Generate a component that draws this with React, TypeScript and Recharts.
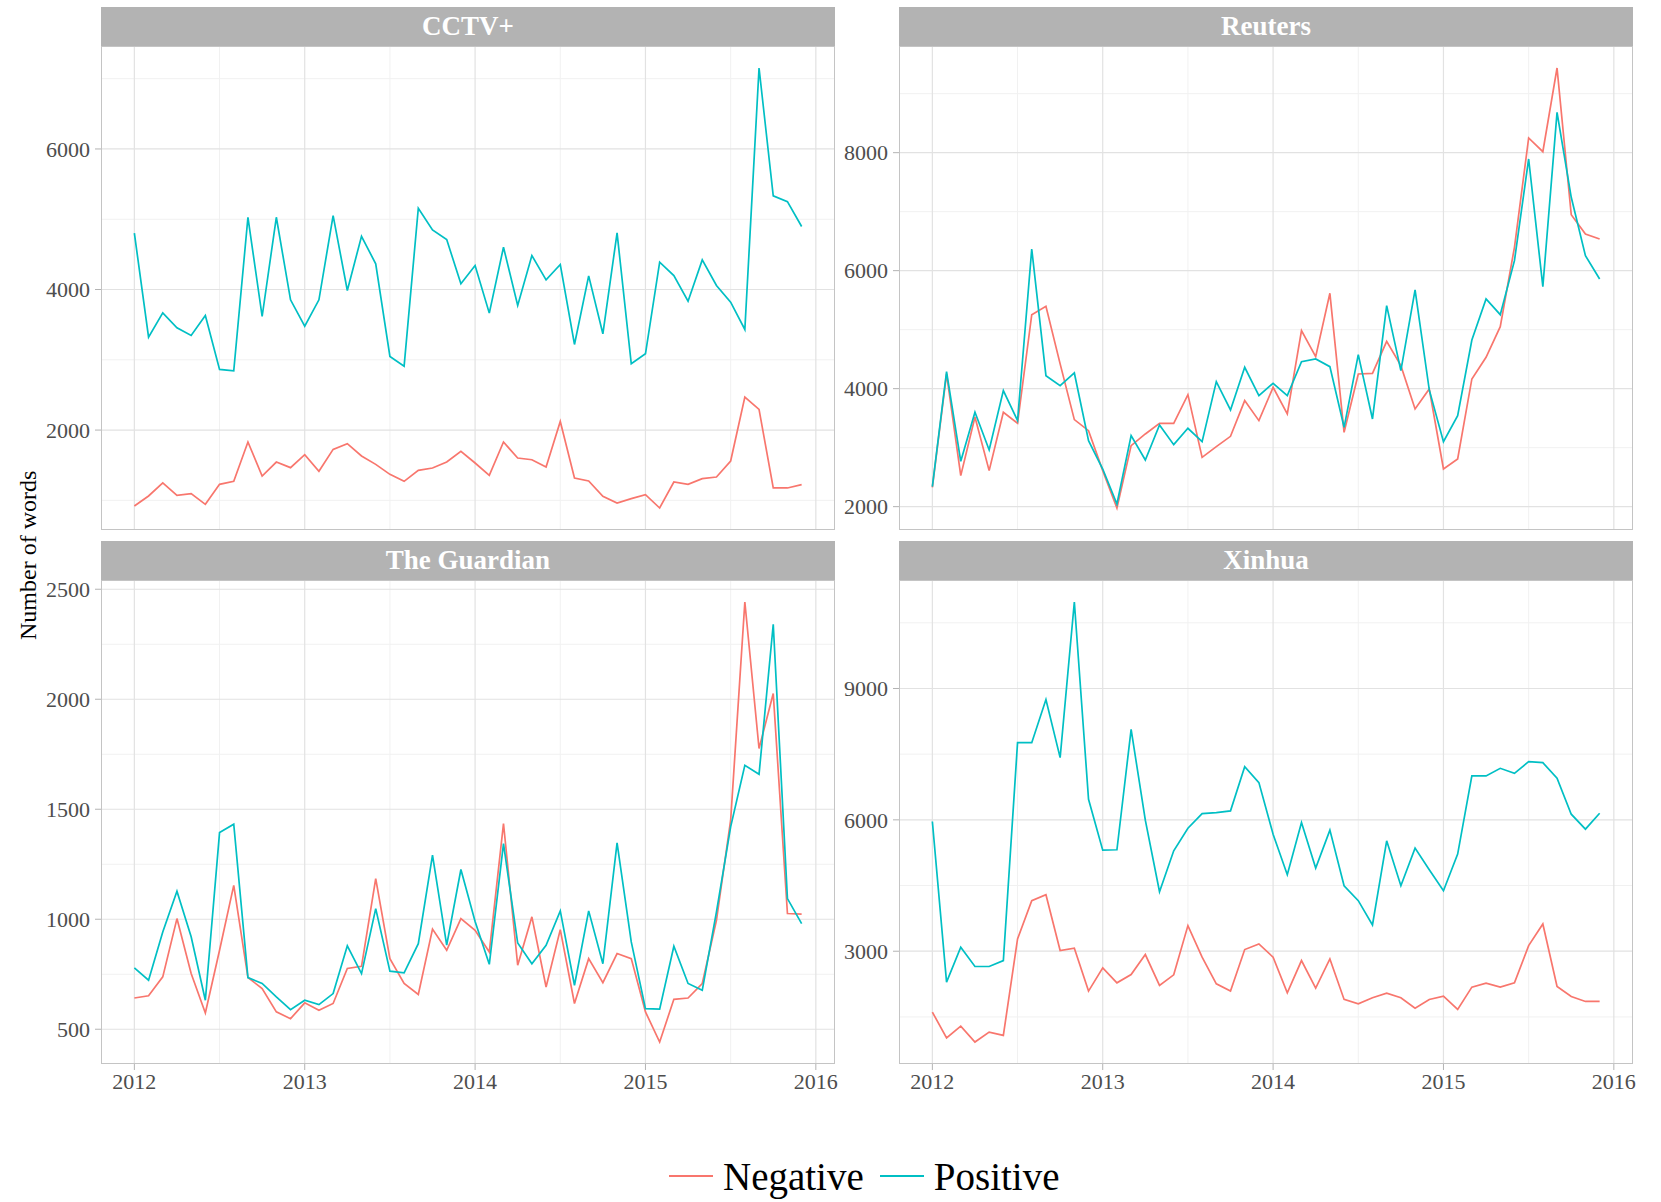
import React from 'react';
import { LineChart, Line, XAxis, YAxis, ReferenceLine } from 'recharts';

// ---- categories (monthly, Jan 2012 .. Dec 2015) ----
const MONTHS: number[] = Array.from({ length: 48 }, (_, i) => 2012 + i / 12);
const YEAR_TICKS = [2012, 2013, 2014, 2015, 2016];
const YEAR_MINOR = [2012.5, 2013.5, 2014.5, 2015.5];
const SERIES = ['Negative', 'Positive'];
const COLORS = ['#F8766D', '#00BFC4'];
const Y_TITLE = 'Number of words';

// ---- CCTV+ ----
const cctvNeg = [920, 1062, 1247, 1071, 1095, 943, 1228, 1270, 1830, 1346, 1545, 1465, 1650, 1413, 1725, 1806, 1631, 1512, 1370, 1270, 1427, 1460, 1545, 1697, 1531, 1356, 1830, 1602, 1578, 1474, 2123, 1318, 1275, 1057, 962, 1024, 1081, 891, 1261, 1228, 1308, 1332, 1559, 2469, 2294, 1176, 1176, 1223];
const cctvPos = [4801, 3322, 3668, 3455, 3346, 3630, 2863, 2844, 5028, 3616, 5028, 3853, 3479, 3853, 5052, 3986, 4758, 4365, 3048, 2910, 5156, 4848, 4711, 4081, 4341, 3664, 4602, 3773, 4483, 4138, 4356, 3218, 4194, 3370, 4806, 2943, 3085, 4389, 4199, 3834, 4422, 4057, 3820, 3431, 7152, 5332, 5251, 4896];
const cctvTicks = [2000, 4000, 6000];
const cctvMinor = [1000, 3000, 5000, 7000];

// ---- Reuters ----
const reutNeg = [2328, 4249, 2525, 3520, 2610, 3599, 3413, 5254, 5396, 4420, 3475, 3288, 2610, 1977, 3034, 3232, 3413, 3413, 3898, 2836, 3017, 3192, 3797, 3458, 4023, 3571, 4983, 4543, 5616, 3260, 4249, 4260, 4802, 4390, 3655, 3994, 2638, 2808, 4164, 4531, 5051, 6396, 8249, 8017, 9435, 6949, 6622, 6537];
const reutPos = [2339, 4288, 2768, 3599, 2961, 3966, 3458, 6367, 4220, 4051, 4266, 3119, 2638, 2045, 3203, 2791, 3384, 3051, 3328, 3102, 4119, 3639, 4362, 3881, 4091, 3881, 4458, 4503, 4373, 3345, 4576, 3486, 5407, 4305, 5673, 3978, 3102, 3542, 4825, 5520, 5254, 6170, 7893, 5729, 8684, 7243, 6254, 5859];
const reutTicks = [2000, 4000, 6000, 8000];
const reutMinor = [3000, 5000, 7000, 9000];

// ---- The Guardian ----
const guardNeg = [642, 652, 738, 1003, 753, 574, 859, 1154, 735, 685, 579, 548, 620, 586, 617, 776, 786, 1185, 821, 708, 658, 955, 859, 1003, 950, 851, 1435, 791, 1011, 692, 953, 617, 821, 712, 844, 821, 579, 442, 636, 642, 708, 995, 1450, 2442, 1776, 2026, 1026, 1023];
const guardPos = [779, 723, 942, 1127, 920, 632, 1394, 1432, 735, 708, 647, 589, 632, 612, 662, 879, 753, 1048, 764, 756, 889, 1291, 882, 1226, 990, 795, 1344, 892, 798, 882, 1038, 700, 1038, 798, 1347, 897, 594, 591, 877, 708, 677, 1033, 1420, 1700, 1659, 2341, 1094, 980];
const guardTicks = [500, 1000, 1500, 2000, 2500];
const guardMinor = [750, 1250, 1750, 2250];

// ---- Xinhua ----
const xinNeg = [1610, 1018, 1291, 927, 1154, 1078, 3281, 4154, 4291, 3015, 3068, 2089, 2620, 2278, 2468, 2924, 2218, 2461, 3585, 2863, 2256, 2089, 3038, 3167, 2863, 2051, 2787, 2157, 2825, 1899, 1800, 1937, 2043, 1937, 1701, 1899, 1975, 1671, 2180, 2271, 2180, 2278, 3129, 3623, 2195, 1967, 1853, 1853];
const xinPos = [5962, 2294, 3091, 2651, 2651, 2787, 7762, 7762, 8749, 7420, 10975, 6471, 5309, 5317, 8066, 5992, 4360, 5294, 5810, 6144, 6167, 6205, 7215, 6851, 5673, 4747, 5939, 4899, 5765, 4496, 4154, 3600, 5522, 4496, 5354, 4861, 4382, 5218, 7003, 7003, 7177, 7063, 7329, 7306, 6949, 6129, 5787, 6152];
const xinTicks = [3000, 6000, 9000];
const xinMinor = [1500, 4500, 7500, 10500];

// ---- layout ----
const PANEL_W = 734;
const PLOT_H = 484;
const STRIP_H = 39;
const AXIS_W = 56;
const AXIS_H = 40;
const RIGHT_PAD = 10;
const FONT = '"Liberation Serif", "Times New Roman", serif';

function expand(arrs: number[][]): [number, number] {
  const all = arrs.flat();
  const mn = Math.min(...all);
  const mx = Math.max(...all);
  const pad = 0.05 * (mx - mn);
  return [mn - pad, mx + pad];
}

const xRange = expand([MONTHS]);

type PanelProps = {
  title: string;
  neg: number[];
  pos: number[];
  ticks: number[];
  minor: number[];
  left: number;
  stripTop: number;
  showX: boolean;
};

function Panel({ title, neg, pos, ticks, minor, left, stripTop, showX }: PanelProps) {
  const data = MONTHS.map((m, i) => ({ x: m, Negative: neg[i], Positive: pos[i] }));
  const yDomain = expand([neg, pos]);
  const plotTop = stripTop + STRIP_H;
  const tickStyle = { fill: '#4d4d4d', fontSize: 22, fontFamily: FONT };
  return (
    <>
      <div
        style={{
          position: 'absolute',
          left,
          top: stripTop,
          width: PANEL_W,
          height: STRIP_H,
          background: '#b3b3b3',
          color: '#ffffff',
          fontFamily: FONT,
          fontWeight: 'bold',
          fontSize: 27,
          lineHeight: `${STRIP_H}px`,
          textAlign: 'center',
        }}
      >
        {title}
      </div>
      <div style={{ position: 'absolute', left: left - AXIS_W, top: plotTop }}>
        <LineChart
          width={PANEL_W + AXIS_W + RIGHT_PAD}
          height={PLOT_H + AXIS_H}
          data={data}
          margin={{ top: 0, right: RIGHT_PAD, left: 0, bottom: 0 }}
        >
          <XAxis
            type="number"
            dataKey="x"
            domain={xRange}
            allowDataOverflow
            ticks={YEAR_TICKS}
            interval={0}
            height={AXIS_H}
            axisLine={false}
            tickLine={showX ? { stroke: '#b3b3b3' } : false}
            tick={showX ? tickStyle : false}
            tickSize={6}
            tickMargin={3}
          />
          <YAxis
            type="number"
            domain={yDomain}
            allowDataOverflow
            ticks={ticks}
            interval={0}
            width={AXIS_W}
            axisLine={false}
            tickLine={{ stroke: '#b3b3b3' }}
            tick={tickStyle}
            tickSize={6}
            tickMargin={5}
          />
          {minor.map((v) => (
            <ReferenceLine key={'ym' + v} y={v} stroke="#f1f1f1" strokeWidth={1} />
          ))}
          {YEAR_MINOR.map((v) => (
            <ReferenceLine key={'xm' + v} x={v} stroke="#f1f1f1" strokeWidth={1} />
          ))}
          {ticks.map((v) => (
            <ReferenceLine key={'yM' + v} y={v} stroke="#e2e2e2" strokeWidth={1.2} />
          ))}
          {YEAR_TICKS.map((v) => (
            <ReferenceLine key={'xM' + v} x={v} stroke="#e2e2e2" strokeWidth={1.2} />
          ))}
          {SERIES.map((s, k) => (
            <Line
              key={s}
              type="linear"
              dataKey={s}
              stroke={COLORS[k]}
              strokeWidth={1.7}
              dot={false}
              activeDot={false}
              isAnimationActive={false}
            />
          ))}
        </LineChart>
      </div>
      <div
        style={{
          position: 'absolute',
          left,
          top: plotTop,
          width: PANEL_W,
          height: PLOT_H,
          boxSizing: 'border-box',
          border: '1px solid #c4c4c4',
          pointerEvents: 'none',
        }}
      />
    </>
  );
}

export default function App() {
  return (
    <div
      style={{
        position: 'absolute',
        left: 0,
        top: 0,
        width: 1661,
        height: 1202,
        background: '#ffffff',
        overflow: 'hidden',
      }}
    >
      <Panel title="CCTV+" neg={cctvNeg} pos={cctvPos} ticks={cctvTicks} minor={cctvMinor} left={101} stripTop={7} showX={false} />
      <Panel title="Reuters" neg={reutNeg} pos={reutPos} ticks={reutTicks} minor={reutMinor} left={899} stripTop={7} showX={false} />
      <Panel title="The Guardian" neg={guardNeg} pos={guardPos} ticks={guardTicks} minor={guardMinor} left={101} stripTop={541} showX />
      <Panel title="Xinhua" neg={xinNeg} pos={xinPos} ticks={xinTicks} minor={xinMinor} left={899} stripTop={541} showX />

      <div
        style={{
          position: 'absolute',
          left: 14,
          top: 255,
          width: 28,
          height: 600,
          writingMode: 'vertical-rl',
          transform: 'rotate(180deg)',
          lineHeight: '28px',
          textAlign: 'center',
          fontFamily: FONT,
          fontSize: 24,
          color: '#000000',
          whiteSpace: 'nowrap',
        }}
      >
        {Y_TITLE}
      </div>

      <div
        style={{
          position: 'absolute',
          left: 669,
          top: 1152,
          height: 48,
          display: 'flex',
          alignItems: 'center',
          fontFamily: FONT,
          fontSize: 39,
          color: '#000000',
          whiteSpace: 'nowrap',
        }}
      >
        {SERIES.map((s, k) => (
          <div key={s} style={{ display: 'flex', alignItems: 'center', marginRight: k === 0 ? 16 : 0 }}>
            <div style={{ width: 44, height: 2, background: COLORS[k], marginRight: 10 }} />
            <span>{s}</span>
          </div>
        ))}
      </div>
    </div>
  );
}
